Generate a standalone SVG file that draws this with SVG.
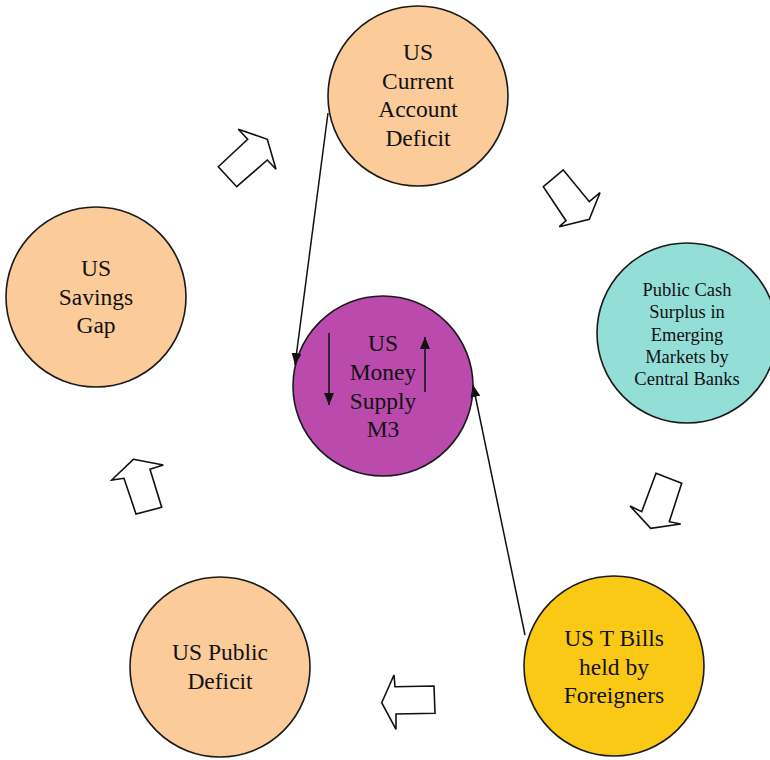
<svg xmlns="http://www.w3.org/2000/svg" width="770" height="760" viewBox="0 0 770 760">
<style>
.n{stroke:#1a1a1a;stroke-width:1.6}
.peach{fill:#FBCB9A}
.teal{fill:#93DFD8}
.mag{fill:#BB4AAD}
.gold{fill:#F9C915}
text{font-family:"Liberation Serif","Times New Roman",serif;fill:#111;text-anchor:middle}
.t{font-size:23.5px}
.s{font-size:18.5px}
.blk{fill:#fff;stroke:#111;stroke-width:1.6;stroke-linejoin:miter}
.c{stroke:#111;stroke-width:1.5;fill:none}
</style>
<defs>
<marker id="ah" viewBox="0 0 12 10" refX="12" refY="5" markerWidth="12" markerHeight="10" markerUnits="userSpaceOnUse" orient="auto">
<path d="M0,0 L12,5 L0,10 z" fill="#111"/>
</marker>
</defs>
<rect width="770" height="760" fill="#fff"/>
<g id="node-current-account">
<circle class="n peach" cx="418" cy="96" r="90"/>
<text class="t" x="418" y="60">US</text>
<text class="t" x="418" y="89">Current</text>
<text class="t" x="418" y="117">Account</text>
<text class="t" x="418" y="146">Deficit</text>
</g>
<g id="node-savings-gap">
<circle class="n peach" cx="96" cy="297" r="90"/>
<text class="t" x="96" y="276">US</text>
<text class="t" x="96" y="305">Savings</text>
<text class="t" x="96" y="333">Gap</text>
</g>
<g id="node-public-cash">
<circle class="n teal" cx="687" cy="333" r="90"/>
<text class="s" x="687" y="296">Public Cash</text>
<text class="s" x="687" y="318">Surplus in</text>
<text class="s" x="687" y="341">Emerging</text>
<text class="s" x="687" y="363">Markets by</text>
<text class="s" x="687" y="385">Central Banks</text>
</g>
<g id="node-t-bills">
<circle class="n gold" cx="614" cy="666" r="90"/>
<text class="t" x="614" y="646">US T Bills</text>
<text class="t" x="614" y="675">held by</text>
<text class="t" x="614" y="703">Foreigners</text>
</g>
<g id="node-public-deficit">
<circle class="n peach" cx="220" cy="667" r="90"/>
<text class="t" x="220" y="660">US Public</text>
<text class="t" x="220" y="689">Deficit</text>
</g>
<g id="node-money-supply">
<circle class="n mag" cx="383" cy="386" r="90"/>
<text class="t" x="383" y="351">US</text>
<text class="t" x="383" y="380">Money</text>
<text class="t" x="383" y="409">Supply</text>
<text class="t" x="383" y="437">M3</text>
<line class="c" x1="329" y1="333" x2="329" y2="405" marker-end="url(#ah)"/>
<line class="c" x1="425" y1="392" x2="425" y2="337" marker-end="url(#ah)"/>
</g>
<g id="connectors">
<line class="c" x1="328" y1="113" x2="295" y2="365" marker-end="url(#ah)"/>
<line class="c" x1="525" y1="635" x2="473" y2="385" marker-end="url(#ah)"/>
<polygon class="blk" points="238.3,129.3 267.3,139.3 276,169.3 267.3,160 236.7,186.7 218.3,166.7 247.7,139.3"/>
<polygon class="blk" points="563.3,170 589.3,201.7 600,192.7 589.3,219.3 559.3,226.7 566,220.7 543.3,186.7"/>
<polygon class="blk" points="656,473.3 681.7,483.3 669.3,521.7 680.7,524 650.7,528.3 630,506 641.7,511.7"/>
<polygon class="blk" points="381.7,702.7 394,675 395,686.7 434,686 435,713.3 396,714 396,729.3"/>
<polygon class="blk" points="133.3,459.3 163.3,465 150,469.3 161.7,507.3 136,514 124,478.3 111.7,480"/>
</g>
</svg>
